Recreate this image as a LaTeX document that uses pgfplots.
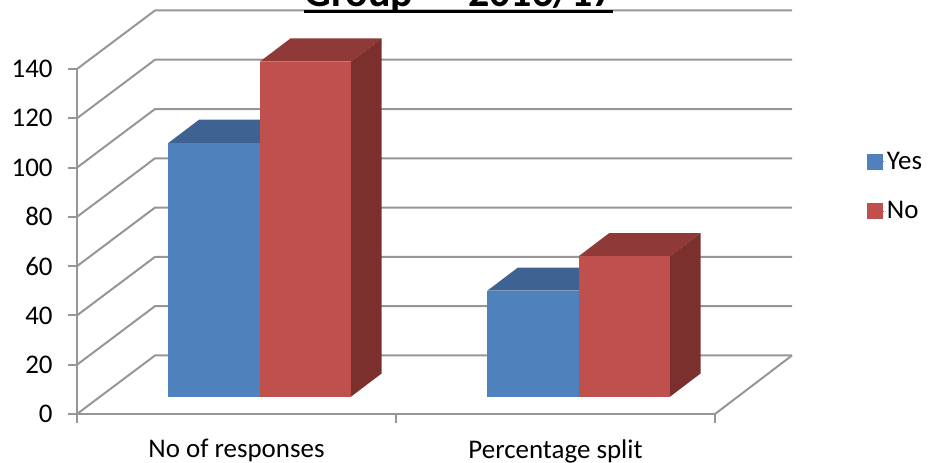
\documentclass[border=0pt]{standalone}
\usepackage{pgfplots}
\usepackage{fontspec}
\setmainfont{Carlito}
\pgfplotsset{compat=1.18}
\definecolor{bluef}{HTML}{4F81BD}
\definecolor{bluet}{HTML}{3E6292}
\definecolor{redf}{HTML}{C0504D}
\definecolor{redt}{HTML}{8F3A38}
\definecolor{reds}{HTML}{7B302E}
\definecolor{gridg}{HTML}{969696}
\begin{document}
\begin{tikzpicture}
\useasboundingbox (-57.75pt,-36pt) rectangle (638.25pt,310.5pt);
\clip (-57.75pt,-36pt) rectangle (638.25pt,310.5pt);
\begin{axis}[
  at={(0,0)}, anchor=south west,
  scale only axis, width=478.5pt, height=258.75pt,
  xmin=0, xmax=2, ymin=0, ymax=140,
  clip=false,
  axis x line*=bottom, axis y line*=left,
  axis line style={gridg, line width=1.5pt, -},
  tick style={gridg, line width=1.5pt},
  tick align=outside, major tick length=6.75pt,
  ytick={0,20,40,60,80,100,120,140},
  xtick={0,1,2}, xticklabels={},
  extra x ticks={0.5,1.5},
  extra x tick labels={No of responses,Percentage split},
  extra x tick style={major tick length=0pt},
  tick label style={font=\fontsize{20.2}{23}\selectfont, text=black},
  xticklabel style={yshift=-15.5pt},
  yticklabel style={xshift=-8pt},
  /pgf/number format/assume math mode=true,
  legend style={at={(rel axis cs:1.2376,0.7685)}, anchor=north west, draw=none, fill=none,
    font=\fontsize{20.2}{23}\selectfont, row sep=18.7pt, inner sep=0pt},
  legend cell align=left,
  legend image code/.code={\fill[#1] (0pt,-5.6pt) rectangle (11.25pt,5.6pt); \path (0pt,0pt) -- (12.7pt,0pt);},
]
% wall and floor lines
\pgfplotsinvokeforeach{0,20,40,60,80,100,120,140}{
  \addplot[gridg, line width=1.5pt, forget plot] coordinates {(0,#1) (0.2445,#1+23.76) (2.2414,#1+23.76)};
}
\addplot[gridg, line width=1.5pt, forget plot] coordinates {(2,0) (2.2414,23.76)};
% No of responses: Yes 103, No 136
\addplot[draw=none, fill=bluet, forget plot] coordinates {(0.2868,110.03) (0.3827,119.43) (0.6696,119.43) (0.5737,110.03)} -- cycle;
\addplot[draw=none, fill=bluef, forget plot] coordinates {(0.2868,7.03) (0.2868,110.03) (0.5737,110.03) (0.5737,7.03)} -- cycle;
\addplot[draw=none, fill=redt, forget plot] coordinates {(0.5737,143.03) (0.6696,152.43) (0.9548,152.43) (0.8589,143.03)} -- cycle;
\addplot[draw=none, fill=reds, forget plot] coordinates {(0.8589,7.03) (0.9548,16.43) (0.9548,152.43) (0.8589,143.03)} -- cycle;
\addplot[draw=none, fill=redf, forget plot] coordinates {(0.5737,7.03) (0.5737,143.03) (0.8589,143.03) (0.8589,7.03)} -- cycle;
% Percentage split: Yes 43, No 57
\addplot[draw=none, fill=bluet, forget plot] coordinates {(1.2862,50.03) (1.3821,59.43) (1.6686,59.43) (1.5727,50.03)} -- cycle;
\addplot[draw=none, fill=bluef, forget plot] coordinates {(1.2862,7.03) (1.2862,50.03) (1.5727,50.03) (1.5727,7.03)} -- cycle;
\addplot[draw=none, fill=redt, forget plot] coordinates {(1.5727,64.03) (1.6686,73.43) (1.9548,73.43) (1.8589,64.03)} -- cycle;
\addplot[draw=none, fill=reds, forget plot] coordinates {(1.8589,7.03) (1.9548,16.43) (1.9548,73.43) (1.8589,64.03)} -- cycle;
\addplot[draw=none, fill=redf, forget plot] coordinates {(1.5727,7.03) (1.5727,64.03) (1.8589,64.03) (1.8589,7.03)} -- cycle;
\addlegendimage{bluef}
\addlegendentry{Yes}
\addlegendimage{redf}
\addlegendentry{No}
\end{axis}
\node[anchor=base west, inner sep=0pt, font=\fontsize{31.5}{36}\selectfont\bfseries] at (170.25pt,306pt) {Group};
\node[anchor=base west, inner sep=0pt, font=\fontsize{31.5}{36}\selectfont\bfseries] at (293.25pt,306pt) {2016/17};
\fill[black] (170.25pt,301pt) rectangle (402pt,303pt);
\end{tikzpicture}
\end{document}
